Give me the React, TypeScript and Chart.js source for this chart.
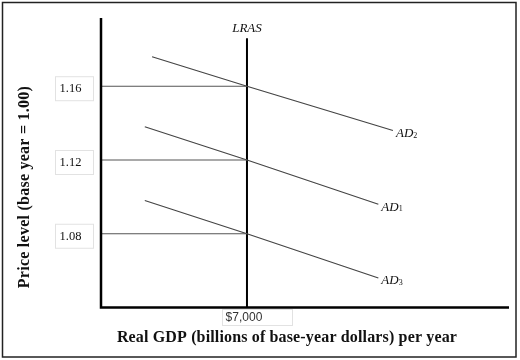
import React, { useEffect, useRef } from "react";
import { Chart, registerables } from "chart.js";
Chart.register(...registerables);

// Price levels marked on the vertical axis
const priceLevels = [1.16, 1.12, 1.08];
const priceLabels = ["1.16", "1.12", "1.08"];
// Long-run aggregate supply (potential real GDP)
const lrasGdp = 7000;
const lrasTop = 1.186;
const gdpLabel = "$7,000";
// Aggregate demand curves (real GDP, price level)
const ad2Gdp = [5700, 7000, 9000];
const ad2Price = [1.176, 1.16, 1.136];
const ad1Gdp = [5600, 7000, 8800];
const ad1Price = [1.138, 1.12, 1.096];
const ad3Gdp = [5600, 7000, 8800];
const ad3Price = [1.098, 1.08, 1.056];
const adNames = ["AD", "AD", "AD"];
const adSubs = ["2", "1", "3"];
// Axis ranges
const gdpMin = 5000;
const gdpMax = 10590;
const priceMin = 1.04;
const priceMax = 1.197;

const xTitle = "Real GDP (billions of base-year dollars) per year";
const yTitle = "Price level (base year = 1.00)";

const pts = (xs: number[], ys: number[]) => xs.map((x, i) => ({ x, y: ys[i] }));

export default function App() {
  const ref = useRef<HTMLCanvasElement | null>(null);
  useEffect(() => {
    const canvas = ref.current!;
    const adSets = [
      pts(ad2Gdp, ad2Price),
      pts(ad1Gdp, ad1Price),
      pts(ad3Gdp, ad3Price),
    ];
    const datasets: any[] = [];
    priceLevels.forEach((p) => {
      datasets.push({
        data: [{ x: gdpMin, y: p }, { x: lrasGdp, y: p }],
        borderColor: "#555",
        borderWidth: 1.2,
        pointRadius: 0,
      });
    });
    adSets.forEach((d) => {
      datasets.push({ data: d, borderColor: "#444", borderWidth: 1.2, pointRadius: 0 });
    });
    datasets.push({
      data: [{ x: lrasGdp, y: priceMin }, { x: lrasGdp, y: lrasTop }],
      borderColor: "#000",
      borderWidth: 2,
      pointRadius: 0,
    });

    const deco = {
      id: "deco",
      afterDraw(chart: any) {
        const ctx = chart.ctx as CanvasRenderingContext2D;
        const ca = chart.chartArea;
        const xs = chart.scales.x;
        const ys = chart.scales.y;
        ctx.save();
        // outer border
        ctx.strokeStyle = "#222";
        ctx.lineWidth = 1.5;
        ctx.strokeRect(2.5, 2.5, 513.5, 354.5);
        // axes
        ctx.strokeStyle = "#000";
        ctx.lineWidth = 2.5;
        ctx.beginPath();
        ctx.moveTo(ca.left, ca.top);
        ctx.lineTo(ca.left, ca.bottom);
        ctx.lineTo(ca.right, ca.bottom);
        ctx.stroke();
        // y tick labels in boxes
        ctx.font = "12.5px 'Liberation Serif'";
        ctx.textBaseline = "middle";
        ctx.textAlign = "left";
        priceLevels.forEach((p, i) => {
          const y = ys.getPixelForValue(p);
          ctx.strokeStyle = "#e2e2e2";
          ctx.lineWidth = 1;
          ctx.strokeRect(55.5, y - 9.5, 38, 24);
          ctx.fillStyle = "#111";
          ctx.fillText(priceLabels[i], 59.5, y + 2.5);
        });
        // x tick label
        const x7 = xs.getPixelForValue(lrasGdp);
        ctx.strokeStyle = "#e2e2e2";
        ctx.strokeRect(222.5, 309.5, 70, 16);
        ctx.font = "12px 'Liberation Sans'";
        ctx.textAlign = "center";
        ctx.fillStyle = "#333";
        ctx.fillText(gdpLabel, x7 - 3, 318);
        // LRAS label
        ctx.font = "italic 13px 'Liberation Serif'";
        ctx.fillStyle = "#111";
        ctx.fillText("LRAS", x7, 29);
        // AD labels
        adSets.forEach((d, i) => {
          const last = d[d.length - 1];
          const px = xs.getPixelForValue(last.x) + 3;
          const py = ys.getPixelForValue(last.y) + 3;
          ctx.textAlign = "left";
          ctx.font = "italic 13px 'Liberation Serif'";
          ctx.fillText(adNames[i], px, py);
          const w = ctx.measureText(adNames[i]).width;
          ctx.font = "8px 'Liberation Serif'";
          ctx.fillText(adSubs[i], px + w, py + 2);
        });
        // axis titles
        ctx.font = "bold 16px 'Liberation Serif'";
        ctx.fillStyle = "#111";
        ctx.textAlign = "center";
        (ctx as any).letterSpacing = "0.15px";
        ctx.fillText(xTitle, 287, 338);
        (ctx as any).letterSpacing = "0.25px";
        ctx.translate(25, 187);
        ctx.rotate(-Math.PI / 2);
        ctx.fillText(yTitle, 0, 0);
        ctx.restore();
      },
    };

    const chart = new Chart(canvas, {
      type: "line",
      data: { datasets },
      options: {
        animation: false,
        responsive: false,
        devicePixelRatio: 1,
        parsing: false as any,
        layout: { padding: { left: 101, right: 11, top: 18, bottom: 52.5 } },
        plugins: { legend: { display: false }, tooltip: { enabled: false } },
        scales: {
          x: { type: "linear", min: gdpMin, max: gdpMax, display: false },
          y: { type: "linear", min: priceMin, max: priceMax, display: false },
        },
      },
      plugins: [deco],
    });
    return () => chart.destroy();
  }, []);
  return (
    <div style={{ position: "fixed", left: 0, top: 0, width: 520, height: 360, background: "#fff" }}>
      <canvas ref={ref} width={520} height={360} style={{ display: "block" }} />
    </div>
  );
}
